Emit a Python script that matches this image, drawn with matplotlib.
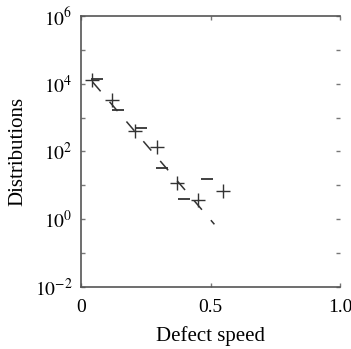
import matplotlib
matplotlib.use("Agg")
import matplotlib.pyplot as plt
import numpy as np

plt.rcParams['font.family'] = ['Liberation Serif', 'DejaVu Serif']
plt.rcParams['mathtext.fontset'] = 'stix'

# data
speed_plus = [0.041, 0.119, 0.208, 0.292, 0.369, 0.453, 0.547]
dist_plus = [10**4.11, 10**3.52, 10**2.59, 10**2.14, 10**1.08, 10**0.57, 10**0.82]
speed_dash = [0.063, 0.144, 0.232, 0.312, 0.398, 0.485]
dist_dash = [10**4.13, 10**3.21, 10**2.69, 10**1.51, 10**0.60, 10**1.18]
fit_speed = [0.045, 0.515]
fit_dist = [10**4.05, 10**-0.15]

xticks = [0, 0.5, 1.0]
xticklabels = ['0', '0.5', '1.0']
yticklabels = [r'$10^{-2}$', r'$10^{0}$', r'$10^{2}$', r'$10^{4}$', r'$10^{6}$']

fig = plt.figure(figsize=(3.51, 3.49), dpi=100)
ax = fig.add_axes([0.2308, 0.1777, 0.7379, 0.7765])

ax.plot(fit_speed, fit_dist, color='#333333', lw=1.1, dashes=(8, 9))
ax.plot(speed_plus, dist_plus, ls='none', marker='+', ms=10, mew=1.0, color='#333333')
ax.plot(speed_dash, dist_dash, ls='none', marker='_', ms=8, mew=1.3, color='#333333')

ax.set_yscale('log')
ax.set_xlim(0, 1.0)
ax.set_ylim(1e-2, 1e6)
ax.set_xticks(xticks)
ax.set_xticklabels(xticklabels)
ax.set_yticks([10.0**k for k in range(-2, 7)])
ax.set_yticklabels([yticklabels[(k + 2) // 2] if k % 2 == 0 else '' for k in range(-2, 7)])
ax.yaxis.set_minor_locator(matplotlib.ticker.NullLocator())

ax.tick_params(direction='in', length=3, width=1, color='#777777', labelsize=14,
               top=True, right=True)
ax.tick_params(axis='x', pad=9)
ax.tick_params(axis='y', pad=6)
ax.spines['right'].set_visible(False)
for s in ['left', 'top', 'bottom']:
    ax.spines[s].set_color('#555555')
    ax.spines[s].set_linewidth(1.2)

ax.set_xlabel('Defect speed', fontsize=15, va='center')
ax.set_ylabel('Distributions', fontsize=15, va='center')
ax.xaxis.set_label_coords(0.5, -0.18)
ax.yaxis.set_label_coords(-0.243, 0.5)

fig.savefig('out.png', dpi=100)
